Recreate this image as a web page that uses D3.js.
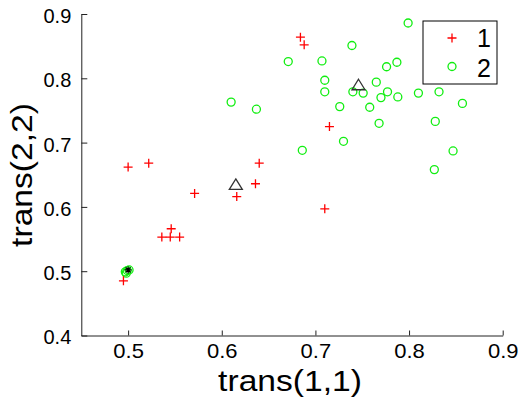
<!DOCTYPE html>
<html>
<head>
<meta charset="utf-8">
<script src="https://cdn.jsdelivr.net/npm/d3@7"></script>
<style>
  html, body { margin: 0; padding: 0; background: #fff; }
  svg { display: block; }
  text { font-family: "Liberation Sans", Arial, sans-serif; fill: #000; }
  .tick text { font-size: 20px !important; font-family: "Liberation Sans", Arial, sans-serif !important; }
</style>
</head>
<body>
<svg id="chart" width="518" height="400"></svg>
<script>
// ---- data ----
const class1 = [
  [0.500, 0.662], [0.522, 0.668], [0.640, 0.668], [0.636, 0.636], [0.616, 0.616],
  [0.571, 0.621], [0.546, 0.566], [0.536, 0.553], [0.545, 0.553], [0.555, 0.553],
  [0.495, 0.485], [0.710, 0.597], [0.715, 0.725], [0.684, 0.864], [0.688, 0.852]
];
const class2 = [
  [0.799, 0.886], [0.739, 0.851], [0.671, 0.826], [0.707, 0.827], [0.776, 0.818],
  [0.787, 0.825], [0.710, 0.797], [0.710, 0.779], [0.740, 0.779], [0.751, 0.777],
  [0.765, 0.794], [0.777, 0.779], [0.770, 0.770], [0.788, 0.771], [0.810, 0.777],
  [0.832, 0.779], [0.857, 0.761], [0.726, 0.756], [0.758, 0.755], [0.768, 0.730],
  [0.828, 0.733], [0.730, 0.702], [0.686, 0.688], [0.847, 0.687], [0.827, 0.658],
  [0.610, 0.763], [0.637, 0.752],
  [0.497, 0.499], [0.499, 0.501], [0.501, 0.502], [0.498, 0.497]
];
const centers = [[0.615, 0.635], [0.746, 0.790]];
const starPoints = [[0.500, 0.502]];
const xTicks = [0.5, 0.6, 0.7, 0.8, 0.9];
const yTicks = [0.4, 0.5, 0.6, 0.7, 0.8, 0.9];
const legendLabels = ["1", "2"];
const xLabel = "trans(1,1)";
const yLabel = "trans(2,2)";

// ---- layout ----
const svg = d3.select("#chart");
const x = d3.scaleLinear().domain([0.45, 0.9]).range([81.3, 502.7]);
const y = d3.scaleLinear().domain([0.4, 0.9]).range([335.5, 14]);
const axisColor = "#222";

// x axis
const gx = svg.append("g").attr("transform", `translate(0,${y(0.4)})`)
  .call(d3.axisBottom(x).tickValues(xTicks).tickFormat(d3.format(".1f")).tickSizeInner(-5).tickSizeOuter(0));
gx.attr("font-size", 20).attr("font-family", "Liberation Sans, Arial, sans-serif");
gx.select(".domain").attr("stroke", axisColor);
gx.selectAll(".tick line").attr("stroke", axisColor);
gx.selectAll(".tick text")
  .attr("y", 23).attr("dy", 0)
  .attr("transform", "scale(1.1,1)");

// y axis
const gy = svg.append("g").attr("transform", `translate(${x(0.45)},0)`)
  .call(d3.axisLeft(y).tickValues(yTicks).tickFormat(d3.format(".1f")).tickSizeInner(-6).tickSizeOuter(0));
gy.attr("font-size", 20).attr("font-family", "Liberation Sans, Arial, sans-serif");
gy.select(".domain").attr("stroke", axisColor);
gy.selectAll(".tick line").attr("stroke", axisColor);
gy.selectAll(".tick text")
  .attr("x", -10).attr("dy", "0.42em");

// axis labels
svg.append("text")
  .attr("transform", `translate(290,391) scale(1.12,1)`)
  .attr("text-anchor", "middle")
  .style("font-size", "30px")
  .text(xLabel);
svg.append("text")
  .attr("transform", `translate(32,175) rotate(-90) scale(1.12,1)`)
  .attr("text-anchor", "middle")
  .style("font-size", "30px")
  .text(yLabel);

// markers
const plusPath = (s) => `M${-s},0H${s}M0,${-s}V${s}`;
const plot = svg.append("g");

plot.selectAll("circle.c2").data(class2).join("circle")
  .attr("class", "c2")
  .attr("cx", d => x(d[0])).attr("cy", d => y(d[1])).attr("r", 4)
  .attr("fill", "none").attr("stroke", "#11ee11").attr("stroke-width", 1.3);

plot.selectAll("path.c1").data(class1).join("path")
  .attr("class", "c1")
  .attr("transform", d => `translate(${x(d[0])},${y(d[1])})`)
  .attr("d", plusPath(4.5))
  .attr("fill", "none").attr("stroke", "#ff0000").attr("stroke-width", 1.3);

plot.selectAll("path.ctr").data(centers).join("path")
  .attr("class", "ctr")
  .attr("transform", d => `translate(${x(d[0])},${y(d[1])})`)
  .attr("d", "M0,-5.5L6.5,5L-6.5,5Z")
  .attr("fill", "none").attr("stroke", "#333").attr("stroke-width", 1.3);

const starPath = "M-3.5,0H3.5M0,-3.5V3.5M-2.5,-2.5L2.5,2.5M-2.5,2.5L2.5,-2.5";
plot.selectAll("path.star").data(starPoints).join("path")
  .attr("class", "star")
  .attr("transform", d => `translate(${x(d[0])},${y(d[1])})`)
  .attr("d", starPath)
  .attr("fill", "none").attr("stroke", "#000").attr("stroke-width", 1.2);

// legend
const lg = svg.append("g");
lg.append("rect").attr("x", 423).attr("y", 21).attr("width", 74).attr("height", 63)
  .attr("fill", "#fff").attr("stroke", "#000").attr("stroke-width", 1);
lg.append("path").attr("transform", "translate(452,38)").attr("d", plusPath(4.5))
  .attr("fill", "none").attr("stroke", "#ff0000").attr("stroke-width", 1.3);
lg.append("circle").attr("cx", 452).attr("cy", 66.5).attr("r", 4)
  .attr("fill", "none").attr("stroke", "#11ee11").attr("stroke-width", 1.3);
lg.selectAll("text").data(legendLabels).join("text")
  .attr("x", 491).attr("y", (d, i) => 47 + i * 30)
  .attr("text-anchor", "end")
  .style("font-size", "25px")
  .text(d => d);
</script>
</body>
</html>
